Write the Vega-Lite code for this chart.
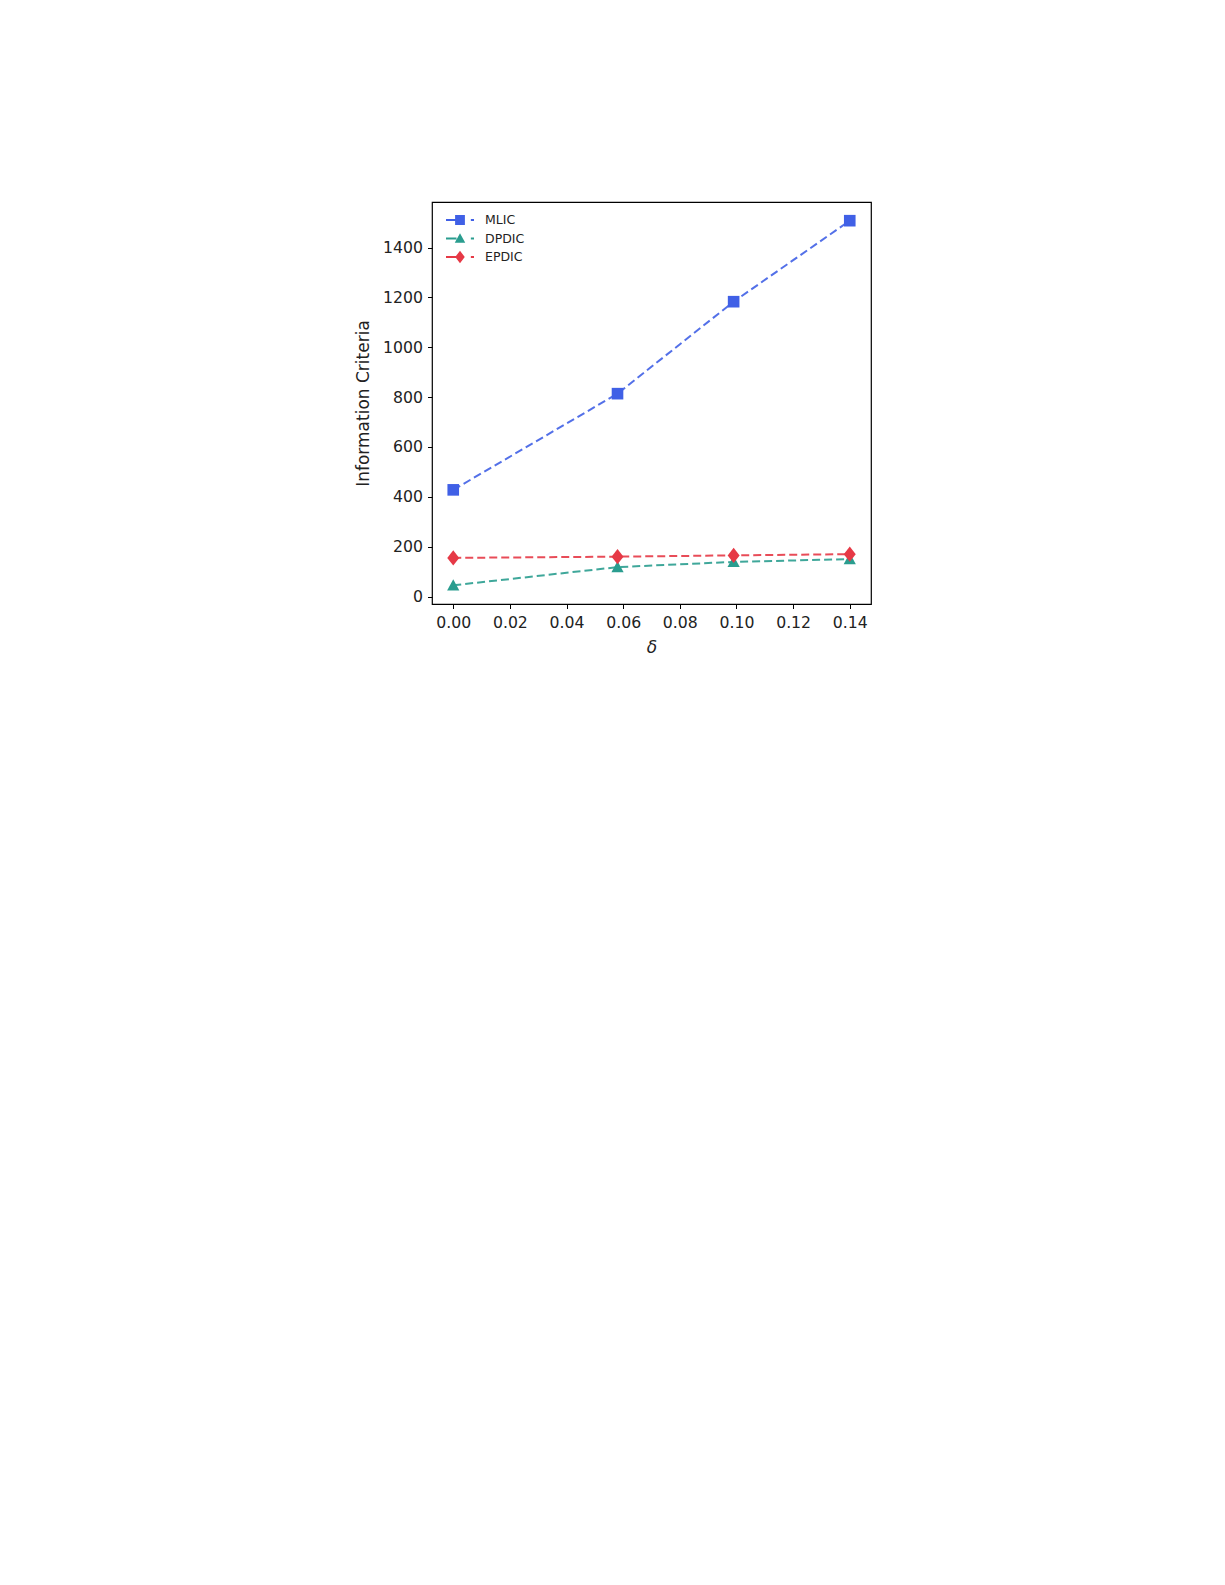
{
  "$schema": "https://vega.github.io/schema/vega-lite/v6.json",
  "autosize": {"type": "none"},
  "padding": {"left": 432, "top": 202, "right": 354, "bottom": 981},
  "width": 439,
  "height": 402,
  "background": "white",
  "config": {
    "font": "DejaVu Sans",
    "view": {"stroke": "black", "strokeWidth": 1.2},
    "axis": {
      "grid": false,
      "domain": false,
      "ticks": true,
      "tickColor": "black",
      "tickSize": 4.5,
      "tickWidth": 1,
      "labelColor": "#222",
      "labelFont": "DejaVu Sans",
      "labelFontSize": 15.7,
      "titleFont": "DejaVu Sans",
      "titleFontSize": 17,
      "titleFontWeight": "normal",
      "titleColor": "#222"
    }
  },
  "data": {
    "values": [
      {"delta": 0.0, "ic": 428, "series": "MLIC"},
      {"delta": 0.058, "ic": 814, "series": "MLIC"},
      {"delta": 0.099, "ic": 1183, "series": "MLIC"},
      {"delta": 0.14, "ic": 1508, "series": "MLIC"},
      {"delta": 0.0, "ic": 45, "series": "DPDIC"},
      {"delta": 0.058, "ic": 118, "series": "DPDIC"},
      {"delta": 0.099, "ic": 139, "series": "DPDIC"},
      {"delta": 0.14, "ic": 150, "series": "DPDIC"},
      {"delta": 0.0, "ic": 155, "series": "EPDIC"},
      {"delta": 0.058, "ic": 160, "series": "EPDIC"},
      {"delta": 0.099, "ic": 165, "series": "EPDIC"},
      {"delta": 0.14, "ic": 170, "series": "EPDIC"}
    ]
  },
  "encoding": {
    "x": {
      "field": "delta",
      "type": "quantitative",
      "scale": {"domain": [-0.0075, 0.1475], "nice": false, "zero": false},
      "axis": {
        "values": [0, 0.02, 0.04, 0.06, 0.08, 0.1, 0.12, 0.14],
        "format": ".2f",
        "title": "δ",
        "titleFontStyle": "italic",
        "titlePadding": 9,
        "labelPadding": 7
      }
    },
    "y": {
      "field": "ic",
      "type": "quantitative",
      "scale": {"domain": [-30, 1583], "nice": false, "zero": false},
      "axis": {
        "values": [0, 200, 400, 600, 800, 1000, 1200, 1400],
        "format": "d",
        "title": "Information Criteria",
        "titlePadding": 10,
        "labelPadding": 5
      }
    }
  },
  "layer": [
    {
      "mark": {"type": "line", "strokeWidth": 2, "strokeDash": [8, 4], "opacity": 0.9},
      "encoding": {
        "color": {
          "field": "series",
          "type": "nominal",
          "scale": {"domain": ["MLIC", "DPDIC", "EPDIC"], "range": ["#4060e6", "#2a9d8f", "#e63946"]},
          "legend": null
        }
      }
    },
    {
      "mark": {"type": "point", "filled": true, "opacity": 1, "size": 135},
      "encoding": {
        "color": {
          "field": "series",
          "type": "nominal",
          "scale": {"domain": ["MLIC", "DPDIC", "EPDIC"], "range": ["#4060e6", "#2a9d8f", "#e63946"]},
          "legend": null
        },
        "shape": {
          "field": "series",
          "type": "nominal",
          "scale": {
            "domain": ["MLIC", "DPDIC", "EPDIC"],
            "range": [
              "square",
              "M0,-1.05L1.05,0.9H-1.05Z",
              "M0,-1.3L1.03,0L0,1.3L-1.03,0Z"
            ]
          },
          "legend": null
        }
      }
    },
    {
      "mark": {"type": "point", "filled": true, "opacity": 0, "size": 1},
      "encoding": {
        "color": {
          "field": "series",
          "type": "nominal",
          "scale": {"domain": ["MLIC", "DPDIC", "EPDIC"], "range": ["#4060e6", "#2a9d8f", "#e63946"]},
          "legend": {
            "title": null,
            "orient": "none",
            "legendX": 21,
            "legendY": 11,
            "padding": 0,
            "symbolSize": 196,
            "symbolOpacity": 1,
            "symbolStrokeWidth": 0,
            "labelFont": "DejaVu Sans",
            "labelFontSize": 12.5,
            "labelColor": "#222",
            "labelOffset": 18,
            "rowPadding": 4.5
          }
        },
        "shape": {
          "field": "series",
          "type": "nominal",
          "scale": {
            "domain": ["MLIC", "DPDIC", "EPDIC"],
            "range": [
              "M-2,-0.16H-0.5V0.16H-2Z M-0.7,-0.7H0.7V0.7H-0.7Z M1.55,-0.16H2V0.16H1.55Z",
              "M-2,-0.16H-0.5V0.16H-2Z M0,-0.75L0.75,0.6H-0.75Z M1.55,-0.16H2V0.16H1.55Z",
              "M-2,-0.16H-0.5V0.16H-2Z M0,-0.9L0.68,0L0,0.9L-0.68,0Z M1.55,-0.16H2V0.16H1.55Z"
            ]
          },
          "legend": {
            "title": null,
            "orient": "none",
            "legendX": 21,
            "legendY": 11,
            "padding": 0,
            "symbolSize": 196,
            "symbolOpacity": 1,
            "symbolStrokeWidth": 0,
            "labelFont": "DejaVu Sans",
            "labelFontSize": 12.5,
            "labelColor": "#222",
            "labelOffset": 18,
            "rowPadding": 4.5
          }
        }
      }
    }
  ],
  "resolve": {"scale": {"shape": "independent", "color": "independent"}}
}
